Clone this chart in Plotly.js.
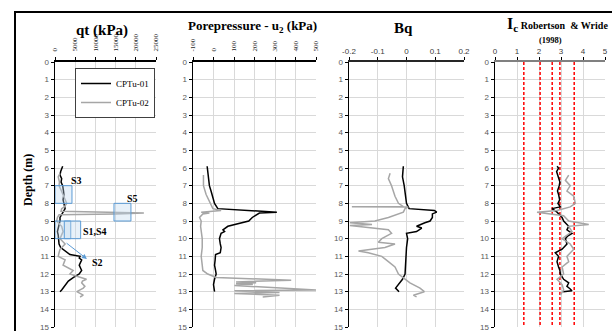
<!DOCTYPE html>
<html>
<head>
<meta charset="utf-8">
<script src="https://cdn.plot.ly/plotly-3.0.1.min.js"></script>
<style>
html,body{margin:0;padding:0;background:#fff;}
#chart{width:612px;height:331px;}
</style>
</head>
<body>
<div id="chart"></div>
<script>
// ---------- DATA ----------
const seriesNames = ["CPTu-01", "CPTu-02"];

// qt (kPa)
const qt01Depth = [5.9,6.0,6.2,6.4,6.6,6.8,7.0,7.3,7.5,7.8,8.0,8.3,8.5,8.7,8.8,9.0,9.2,9.3,9.5,9.6,9.8,10.0,10.3,10.5,10.6,10.8,10.9,11.0,11.1,11.2,11.4,11.5,11.7,11.8,12.0,12.1,12.2,12.4,12.5,12.6,12.8,12.9,13.0];
const qt01 = [1900,1700,1400,1240,1650,1500,1900,2100,2200,2000,2200,2500,2000,1500,1240,1240,1000,800,700,600,800,900,1000,1400,2000,3000,3700,6200,6000,6600,6300,6000,6400,6600,6000,5200,4500,3300,3000,2500,2000,1650,1240];
const qt02Depth = [6.3,6.5,6.8,7.0,7.3,7.5,7.8,8.0,8.2,8.3,8.45,8.5,8.55,8.6,8.65,8.8,9.0,9.2,9.3,9.6,9.8,10.0,10.3,10.5,10.6,10.8,11.0,11.2,11.4,11.5,11.8,12.0,12.1,12.3,12.4,12.5,12.7,12.8,13.0,13.2,13.3];
const qt02 = [1240,800,1100,1000,1600,2000,2500,2900,2300,1650,1500,18000,22000,15000,1000,600,400,1200,1650,2000,1600,1240,2500,1700,1240,1000,800,2500,2200,2000,4500,3700,5000,7800,6800,6600,7400,7000,5400,7000,6200];

// Porepressure u2 (kPa)
const u01Depth = [5.9,6.2,6.5,6.8,7.0,7.3,7.5,7.8,8.0,8.3,8.35,8.4,8.5,8.55,8.7,8.8,9.0,9.2,9.3,9.5,9.6,9.7,10.0,10.3,10.5,10.8,10.9,11.2,11.5,11.8,12.0,12.3,12.6,13.0];
const u01 = [-31,-27,-23,-22,-20,-12,-7,0,5,21,110,160,309,224,200,189,172,110,70,46,54,37,29,33,37,33,10,8,5,10,13,5,0,5];
const u02Depth = [6.4,7.0,7.5,8.0,8.3,8.4,8.5,8.55,8.6,8.8,9.0,9.3,9.6,10.0,10.5,11.0,11.5,11.8,12.0,12.2,12.35,12.45,12.5,12.55,12.6,12.65,12.9,12.95,13.05,13.1,13.2,13.3];
const u02 = [-49,-49,-36,-16,-3,37,-60,-20,-52,-68,-60,-63,-60,-55,-55,-60,-55,-52,-28,13,379,110,208,110,192,102,500,102,322,102,322,240];

// Bq
const bq01Depth = [5.9,6.5,7.0,7.5,8.0,8.3,8.35,8.4,8.5,8.6,8.8,9.0,9.1,9.2,9.3,9.4,9.6,9.7,10.0,10.5,11.0,11.5,12.0,12.3,12.6,12.8,13.0];
const bq01 = [-0.011,-0.014,-0.008,-0.003,0,0.009,0.053,0.097,0.105,0.09,0.09,0.082,0.064,0.047,0.035,0.053,0.035,0,0.004,0,-0.002,-0.005,-0.005,-0.014,-0.028,-0.038,-0.026];
const bq02Depth = [6.3,6.6,7.0,7.3,7.6,8.0,8.18,8.2,8.21,8.3,8.5,8.8,9.0,9.1,9.2,9.25,9.5,9.7,10.0,10.2,10.3,10.5,10.7,10.8,11.0,11.3,11.6,12.0,12.3,12.5,12.8,13.0,13.2,13.3];
const bq02 = [-0.057,-0.063,-0.052,-0.046,-0.04,-0.028,-0.011,-0.19,0.006,-0.005,-0.011,-0.063,-0.11,-0.197,-0.12,-0.197,-0.063,-0.052,-0.086,-0.098,-0.04,-0.075,-0.167,-0.133,-0.086,-0.063,-0.04,-0.028,-0.005,0.012,0.047,0.062,0.024,0.035];

// Ic (Robertson & Wride 1998)
const ic01Depth = [5.9,6.0,6.2,6.5,6.8,7.0,7.3,7.5,7.8,8.0,8.2,8.3,8.5,8.8,9.0,9.3,9.5,9.7,9.85,10.0,10.3,10.6,10.8,11.0,11.3,11.6,11.8,12.0,12.3,12.5,12.7,12.85,12.95,13.0];
const ic01 = [2.82,2.89,2.8,2.86,2.95,2.92,2.84,2.89,2.94,2.86,2.97,2.59,2.82,3.05,3.12,3.35,3.27,3.5,3.3,3.2,3.27,3.05,2.74,2.89,2.82,2.89,2.95,2.97,3.12,3.35,3.27,3.42,3.5,3.1];
const ic02Depth = [6.4,6.7,7.0,7.3,7.6,8.0,8.2,8.4,8.5,8.6,8.7,9.0,9.2,9.3,9.6,10.0,10.3,10.6,11.0,11.3,11.6,12.0,12.3,12.6,12.9,13.2];
const ic02 = [3.35,3.2,3.42,3.27,3.58,3.65,3.42,2.82,1.91,2.44,3.12,3.35,4.26,3.35,3.5,3.05,3.42,3.58,3.27,3.35,3.05,3.12,2.82,3.05,3.12,2.97];
const icBoundaries = [1.31, 2.05, 2.6, 2.95, 3.6];

// Sample boxes on qt panel
const sampleBoxX0 = [0, 14600, 0, 2300];
const sampleBoxX1 = [4200, 18800, 3900, 6350];
const sampleBoxD0 = [7, 8, 9, 9];
const sampleBoxD1 = [8, 9, 10, 10];
const sampleLabels = ["S3", "S5", "S1,S4", "S2"];
const sampleLabelX = [5400, 19300, 9900, 10600];
const sampleLabelD = [6.73, 7.7, 9.62, 11.37];

// Tick labels
const depthTicks = [0,1,2,3,4,5,6,7,8,9,10,11,12,13,14,15];
const qtTicks = [0,5000,10000,15000,20000,25000];
const uTicks = [-100,0,100,200,300,400,500];
const bqTicks = [-0.2,-0.1,0,0.1,0.2];
const bqTickText = ["-0.2","-0.1","0","0.1","0.2"];
const icTicks = [0,1,2,3,4,5];

// ---------- CHART ----------
const W = 612, H = 331;
const px = v => v / W;
const py = v => 1 - v / H;
const yDom = [py(327), py(62)];
const sans = "Liberation Sans, Arial, sans-serif";
const serif = "Liberation Serif, Times New Roman, serif";
const c1 = "#000000", c2 = "#a6a6a6";

function line(x, y, color, xa, ya, name, show) {
  return {x: x, y: y, type: "scatter", mode: "lines", name: name, showlegend: !!show,
    line: {color: color, width: 1.5}, xaxis: xa, yaxis: ya, hoverinfo: "skip"};
}

const traces = [
  line(qt01, qt01Depth, c1, "x", "y", seriesNames[0], true),
  line(qt02, qt02Depth, c2, "x", "y", seriesNames[1], true),
  line(u01, u01Depth, c1, "x2", "y2"),
  line(u02, u02Depth, c2, "x2", "y2"),
  line(bq01, bq01Depth, c1, "x3", "y3"),
  line(bq02, bq02Depth, c2, "x3", "y3"),
];
icBoundaries.forEach(b => {
  traces.push({x: [b, b], y: [0, 15], type: "scatter", mode: "lines", showlegend: false,
    line: {color: "#ff0000", width: 1.5, dash: "3px,2px"}, xaxis: "x4", yaxis: "y4", hoverinfo: "skip"});
});
traces.push(line(ic01, ic01Depth, c1, "x4", "y4"));
traces.push(line(ic02, ic02Depth, c2, "x4", "y4"));

function yAxis(anchor) {
  return {domain: yDom, range: [15, 0], anchor: anchor, tickmode: "array", tickvals: depthTicks,
    showline: true, linecolor: "#000", linewidth: 1.5, ticks: "outside", ticklen: 3, tickcolor: "#000",
    showgrid: true, gridcolor: "#d9d9d9", gridwidth: 1, zeroline: false, ticklabeloverflow: "allow",
    tickfont: {family: sans, size: 8, color: "#595959"}};
}
function xAxis(dom, range, tickvals, ticktext, anchor, angle, font, linecolor, standoff) {
  const ax = {domain: dom, range: range, side: "top", anchor: anchor,
    tickmode: "array", tickvals: tickvals, ticktext: ticktext, tickangle: angle,
    showline: true, linecolor: linecolor || "#262626", linewidth: 2,
    ticks: "outside", ticklen: 3, tickcolor: "#000", showgrid: true, gridcolor: "#d9d9d9",
    gridwidth: 1, zeroline: false, tickfont: font, ticklabeloverflow: "allow"};
  if (standoff) ax.ticklabelstandoff = standoff;
  return ax;
}
const serifTick = {family: serif, size: 7, color: "#262626"};
const sansTick = {family: sans, size: 8, color: "#404040"};

const shapes = [];
for (let i = 0; i < sampleBoxX0.length; i++) {
  shapes.push({type: "rect", xref: "x", yref: "y", x0: sampleBoxX0[i], x1: sampleBoxX1[i],
    y0: sampleBoxD0[i], y1: sampleBoxD1[i], fillcolor: "rgba(189,215,238,0.35)",
    line: {color: "#5b9bd5", width: 1}, layer: "above"});
}
// outer frame
shapes.push({type: "rect", xref: "paper", yref: "paper", x0: px(15), x1: px(700), y0: py(400), y1: py(12),
  line: {color: "#000", width: 2}, fillcolor: "rgba(0,0,0,0)", layer: "below"});

function pa(text, x, y, size, extra) {
  return Object.assign({text: text, x: px(x), y: py(y), xref: "paper", yref: "paper", showarrow: false,
    xanchor: "center", yanchor: "middle", font: {family: serif, size: size, color: "#000"}}, extra || {});
}

const annotations = [
  pa("<b>qt (kPa)</b>", 102, 30, 15),
  pa("<b>Porepressure - u<sub>2</sub> (kPa)</b>", 252, 26, 13),
  pa("<b>Bq</b>", 403, 28, 15),
  pa("<b>I<sub>c</sub><span style='font-size:10px'> Robertson  & Wride</span></b>", 505, 24, 16, {xanchor: "left"}),
  pa("<b>(1998)</b>", 550, 40, 8.5),
  pa("<b>Depth (m)</b>", 28, 180, 12, {textangle: -90}),
  // S2 arrow
  {x: 7900, y: 11.15, ax: 2500, ay: 10.19, xref: "x", yref: "y", axref: "x", ayref: "y", text: "",
    showarrow: true, arrowhead: 2, arrowsize: 1, arrowwidth: 1, arrowcolor: "#5b9bd5"},
];
for (let i = 0; i < sampleLabels.length; i++) {
  annotations.push({text: "<b>" + sampleLabels[i] + "</b>", x: sampleLabelX[i], y: sampleLabelD[i],
    xref: "x", yref: "y", showarrow: false, xanchor: "center", yanchor: "middle",
    font: {family: serif, size: 10, color: "#000"}});
}

const layout = {
  width: W, height: H, margin: {l: 0, r: 0, t: 0, b: 0},
  paper_bgcolor: "#fff", plot_bgcolor: "#fff",
  showlegend: true,
  legend: {x: px(155), y: py(68), xanchor: "right", yanchor: "top", bgcolor: "#fff",
    bordercolor: "#404040", borderwidth: 1, font: {family: serif, size: 9, color: "#000"}},
  xaxis: xAxis([px(55), px(156)], [0, 25000], qtTicks, qtTicks.map(String), "y", -90, serifTick, "#000", 4),
  yaxis: yAxis("x"),
  xaxis2: xAxis([px(193), px(316)], [-100, 500], uTicks, uTicks.map(String), "y2", -90, serifTick, "#000", 4),
  yaxis2: yAxis("x2"),
  xaxis3: xAxis([px(349), px(464)], [-0.2, 0.2], bqTicks, bqTickText, "y3", 0, sansTick, "#262626"),
  yaxis3: yAxis("x3"),
  xaxis4: xAxis([px(495), px(605)], [0, 5], icTicks, icTicks.map(String), "y4", 0, sansTick, "#808080"),
  yaxis4: yAxis("x4"),
  shapes: shapes,
  annotations: annotations,
};

Plotly.newPlot("chart", traces, layout, {staticPlot: true, displayModeBar: false});
</script>
</body>
</html>
